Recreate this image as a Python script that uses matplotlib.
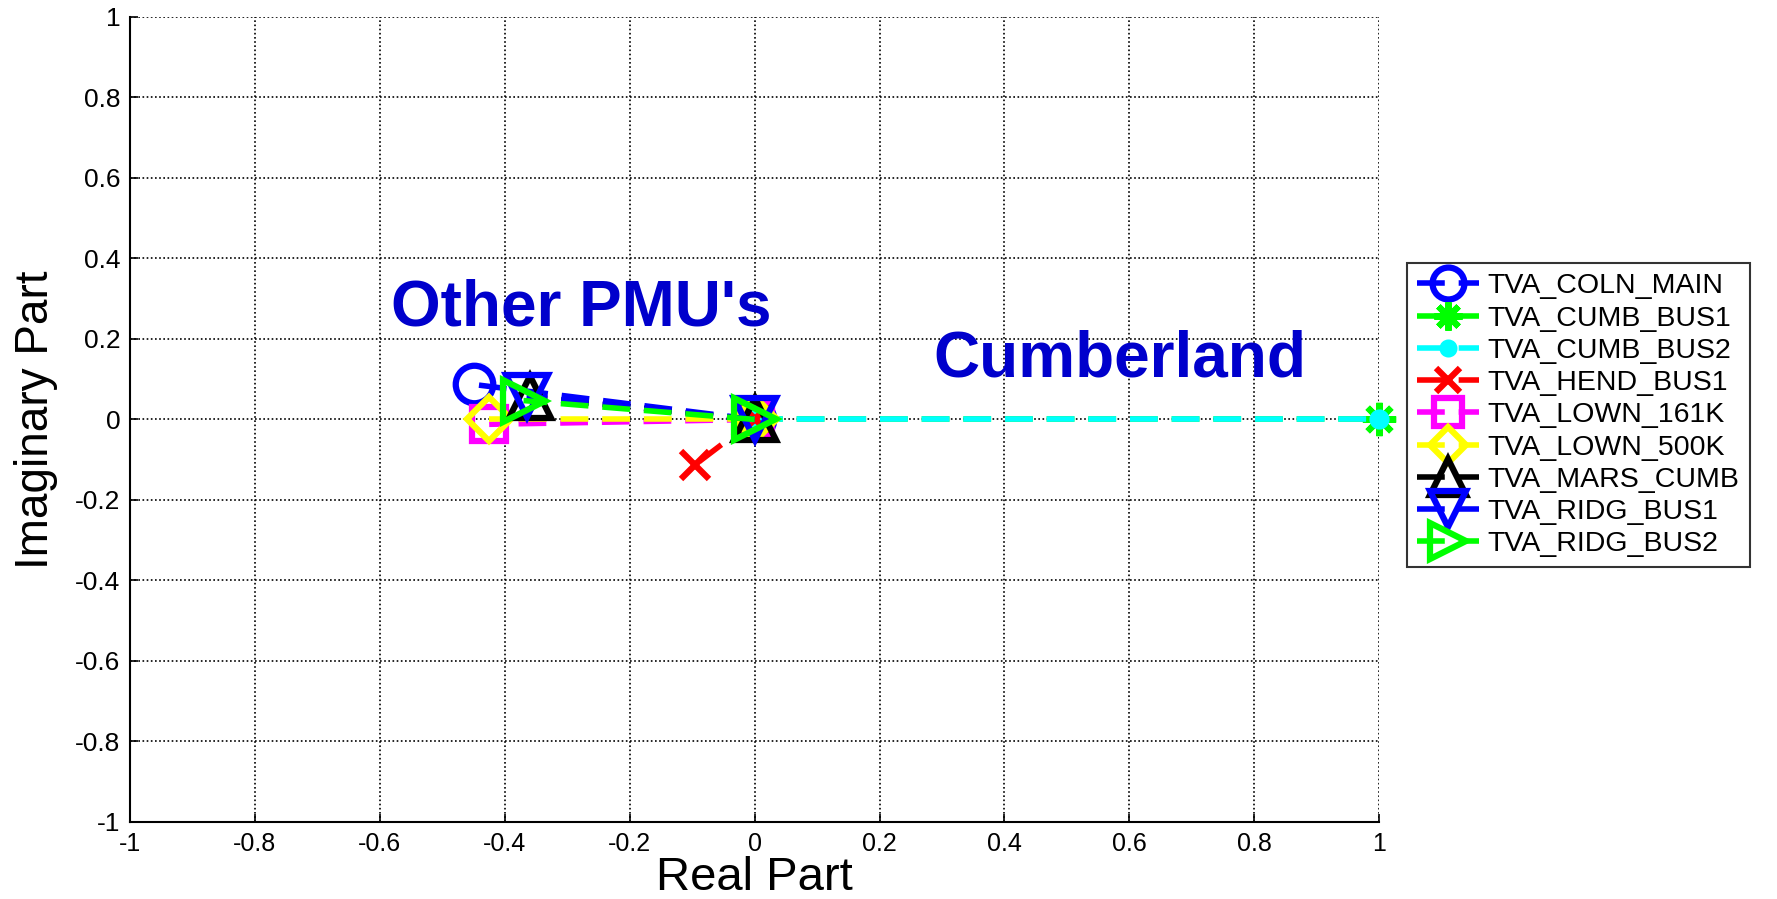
import matplotlib
matplotlib.use("Agg")
import matplotlib.pyplot as plt
from matplotlib import font_manager

# ---------------------------------------------------------
# Data (phasor end points, real / imaginary)
# ---------------------------------------------------------

pmu_names = [
    "TVA_COLN_MAIN",
    "TVA_CUMB_BUS1",
    "TVA_CUMB_BUS2",
    "TVA_HEND_BUS1",
    "TVA_LOWN_161K",
    "TVA_LOWN_500K",
    "TVA_MARS_CUMB",
    "TVA_RIDG_BUS1",
    "TVA_RIDG_BUS2",
]
real_part = [-0.45, 1.0, 1.0, -0.095, -0.425, -0.425, -0.36, -0.365, -0.37]
imag_part = [0.087, 0.0, 0.0, -0.112, -0.012, 0.0, 0.055, 0.058, 0.047]

colors = ["#0000FF", "#00FF00", "#00FFFF", "#FF0000", "#FF00FF",
          "#FFFF00", "#000000", "#0000FF", "#00FF00"]
markers = ["o", (8, 2, 0), ".", "x", "s", "D", "^", "v", ">"]
marker_sizes = [27, 24, 20, 20, 24, 22, 30, 30, 30]

ticks = [-1, -0.8, -0.6, -0.4, -0.2, 0, 0.2, 0.4, 0.6, 0.8, 1]
tick_labels = ["-1", "-0.8", "-0.6", "-0.4", "-0.2", "0",
               "0.2", "0.4", "0.6", "0.8", "1"]

# ---------------------------------------------------------
# Fonts
# ---------------------------------------------------------

installed = {f.name for f in font_manager.fontManager.ttflist}
narrow = "Liberation Sans Narrow" if "Liberation Sans Narrow" in installed else "Liberation Sans"
plt.rcParams["font.family"] = ["Liberation Sans", "DejaVu Sans"]

# ---------------------------------------------------------
# Plot
# ---------------------------------------------------------

fig = plt.figure(figsize=(17.77, 8.99), dpi=100)
ax = fig.add_axes([0.0732, 0.0857, 0.7029, 0.8954])

for i, name in enumerate(pmu_names):
    ax.plot(
        [0, real_part[i]],
        [0, imag_part[i]],
        linestyle="--",
        dashes=(5, 2.5),
        linewidth=4,
        color=colors[i],
        marker=markers[i],
        markersize=marker_sizes[i],
        markeredgewidth=4.5,
        markerfacecolor="none" if markers[i] != "." else colors[i],
        markeredgecolor=colors[i],
        label=name,
        clip_on=False,
    )

ax.text(-0.278, 0.275, "Other PMU's", color="#0000CC", fontsize=46,
        fontweight="bold", ha="center", va="center")
ax.text(0.585, 0.15, "Cumberland", color="#0000CC", fontsize=46,
        fontweight="bold", ha="center", va="center")

ax.set_xlim(-1, 1)
ax.set_ylim(-1, 1)
ax.set_xticks(ticks)
ax.set_yticks(ticks)
ax.set_xticklabels(tick_labels, fontsize=18, family=narrow)
ax.set_yticklabels(tick_labels, fontsize=19)
ax.tick_params(direction="in", length=6, width=1.2, pad=7)

ax.grid(True, color="black", linestyle=(0, (1, 1.5)), linewidth=1.2)
ax.spines["top"].set_visible(False)
ax.spines["right"].set_visible(False)
ax.spines["left"].set_linewidth(1.5)
ax.spines["bottom"].set_linewidth(1.5)

ax.set_xlabel("Real Part", fontsize=34, family=narrow, labelpad=0)
ax.set_ylabel("Imaginary Part", fontsize=33, labelpad=12)

legend = ax.legend(
    loc="upper left",
    bbox_to_anchor=(1.022, 0.694),
    borderaxespad=0,
    fontsize=20.5,
    frameon=True,
    fancybox=False,
    edgecolor="black",
    handlelength=2.2,
    handletextpad=0.3,
    labelspacing=0.22,
    borderpad=0.35,
    markerscale=0.85,
)
legend.get_frame().set_linewidth(1.5)

fig.savefig("out.png", dpi=100)
